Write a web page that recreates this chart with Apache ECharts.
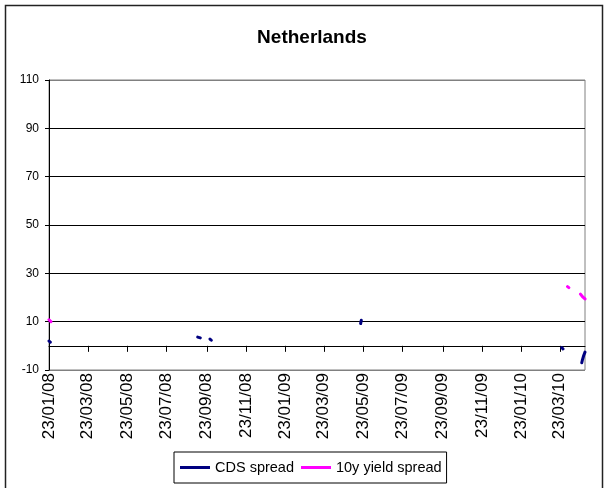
<!DOCTYPE html>
<html>
<head>
<meta charset="utf-8">
<script src="https://cdn.jsdelivr.net/npm/echarts@6/dist/echarts.min.js"></script>
<style>
html,body{margin:0;padding:0;background:#fff;}
#chart{width:605px;height:488px;}
</style>
</head>
<body>
<div id="chart"></div>
<script>
// ---- data ----
const axisStart = '2008-01-23';
const axisEnd = '2010-05-01';
const yTicks = [-10, 10, 30, 50, 70, 90, 110];

const cdsDates = ['2008-01-23','2008-01-24','2008-01-25',
  '2008-09-09','2008-09-10','2008-09-11','2008-09-12','2008-09-13','2008-09-14',
  '2008-09-28','2008-09-29','2008-09-30',
  '2009-05-19','2009-05-20',
  '2010-03-26','2010-03-27','2010-03-28',
  '2010-04-26','2010-04-27','2010-04-28','2010-04-29','2010-04-30','2010-05-01'];
const cdsValues = [2.0, 1.7, 1.5,
  3.6, 3.5, 3.4, 3.4, 3.3, 3.3,
  2.8, 2.5, 2.3,
  9.2, 10.6,
  -0.7, -1.0, -1.3,
  -7.0, -5.8, -5.1, -4.0, -3.3, -2.6];

const yieldDates = ['2008-01-23','2008-01-24','2008-01-25','2008-01-26',
  '2010-04-04','2010-04-05','2010-04-06',
  '2010-04-24','2010-04-25','2010-04-26','2010-04-27','2010-04-28','2010-04-29','2010-04-30','2010-05-01'];
const yieldValues = [10.8, 10.5, 10.2, 10.0,
  24.5, 24.3, 24.1,
  21.4, 21.0, 20.9, 20.4, 20.0, 19.8, 19.6, 19.4];

// ---- build category axis (calendar days) ----
function pad(n){return (n<10?'0':'')+n;}
const categories = [];
{
  const d = new Date(axisStart + 'T00:00:00Z');
  const end = new Date(axisEnd + 'T00:00:00Z');
  while (d <= end) {
    categories.push(d.getUTCFullYear()+'-'+pad(d.getUTCMonth()+1)+'-'+pad(d.getUTCDate()));
    d.setUTCDate(d.getUTCDate()+1);
  }
}
function toSeries(dates, vals){
  const arr = categories.map(()=>null);
  dates.forEach((dt,i)=>{ const k = categories.indexOf(dt); if (k>=0) arr[k] = vals[i]; });
  return arr;
}
function isTickDay(v){
  const p = v.split('-');
  return p[2] === '23' && (parseInt(p[1],10) % 2 === 1);
}
function fmt(v){
  const p = v.split('-');
  return p[2]+'/'+p[1]+'/'+p[0].slice(2);
}

const FONT = 'Liberation Sans, Arial, sans-serif';
const chart = echarts.init(document.getElementById('chart'), null, {renderer:'canvas'});
chart.setOption({
  backgroundColor: '#ffffff',
  animation: false,
  title: {
    text: 'Netherlands',
    left: 307, top: 23, textAlign: 'center',
    textStyle: {fontFamily: FONT, fontSize: 19, fontWeight: 'bold', color: '#000'}
  },
  graphic: [{
    type: 'rect', silent: true,
    shape: {x: 5.5, y: 5.5, width: 597, height: 500},
    style: {fill: 'none', stroke: '#222', lineWidth: 1.5}
  }],
  legend: {
    left: 174, top: 452,
    orient: 'horizontal',
    borderColor: '#000', borderWidth: 1,
    padding: [8, 5, 8, 6],
    itemGap: 7,
    itemWidth: 30, itemHeight: 3,
    icon: 'rect',
    textStyle: {fontFamily: FONT, fontSize: 14.5, color: '#000'},
    data: ['CDS spread', '10y yield spread']
  },
  grid: {
    left: 49, right: 20, top: 80, bottom: 118,
    show: true, borderColor: '#808080', borderWidth: 1, backgroundColor: 'transparent'
  },
  xAxis: [{
    type: 'category', data: categories, boundaryGap: false, position: 'bottom',
    axisLine: {onZero: true, lineStyle: {color: '#000', width: 1}},
    axisTick: {show: true, length: 6, interval: (i, v) => isTickDay(v), lineStyle: {color: '#000'}},
    axisLabel: {show: false},
    splitLine: {show: false}
  }, {
    type: 'category', data: categories, boundaryGap: false, position: 'bottom',
    axisLine: {show: false, onZero: false},
    axisTick: {show: false},
    axisLabel: {
      show: true, rotate: 90, margin: 3,
      interval: (i, v) => isTickDay(v),
      formatter: (v) => fmt(v),
      fontFamily: FONT, fontSize: 17, color: '#000'
    },
    splitLine: {show: false}
  }],
  yAxis: {
    type: 'value', min: -10, max: 110, interval: 20,
    axisLine: {show: true, lineStyle: {color: '#000', width: 1}},
    axisTick: {show: true, length: 4, lineStyle: {color: '#000'}},
    axisLabel: {
      fontFamily: FONT, fontSize: 12, color: '#000', margin: 10,
      formatter: (v) => yTicks.indexOf(v) >= 0 ? String(v) : ''
    },
    splitLine: {show: true, lineStyle: {color: ['#808080','#000','#000','#000','#000','#000','#808080'], width: 1}}
  },
  series: [{
    name: 'CDS spread', type: 'line', xAxisIndex: 0, z: 5,
    data: toSeries(cdsDates, cdsValues),
    showSymbol: false, connectNulls: false, clip: false,
    itemStyle: {color: '#000080'},
    lineStyle: {color: '#000080', width: 3, cap: 'round'}
  }, {
    name: '10y yield spread', type: 'line', xAxisIndex: 0, z: 6,
    data: toSeries(yieldDates, yieldValues),
    showSymbol: false, connectNulls: false, clip: false,
    itemStyle: {color: '#FF00FF'},
    lineStyle: {color: '#FF00FF', width: 3, cap: 'round'}
  }]
});
</script>
</body>
</html>
